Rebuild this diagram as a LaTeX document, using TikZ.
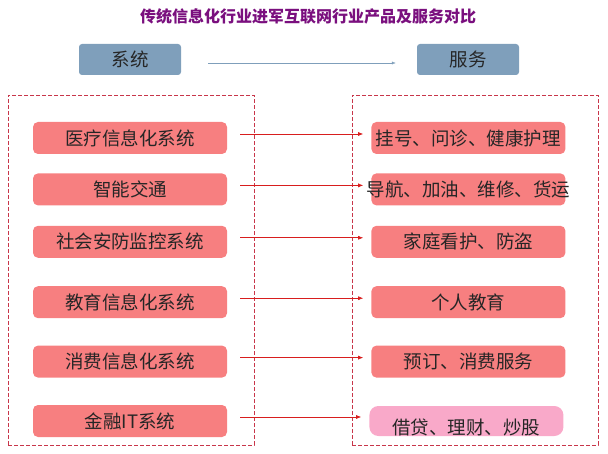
\documentclass[tikz,border=0pt]{standalone}
\usepackage{fontspec}
\setmainfont{Noto Sans CJK SC}
\usepackage{xcolor}
\definecolor{Salmon}{HTML}{F77F80}
\definecolor{Rose}{HTML}{F9A9C9}
\definecolor{Steel}{HTML}{7F9FBB}
\definecolor{Wine}{HTML}{C8364A}
\definecolor{Scarlet}{HTML}{D81E1E}
\definecolor{Violet}{HTML}{7A0F7E}
\usetikzlibrary{arrows.meta,positioning}

\begin{document}
\begin{tikzpicture}[x=1pt,y=-1pt,node distance=19pt and 144pt,every node/.style={font=\fontsize{18.5}{21}\selectfont,text=black!85,align=center}]
\useasboundingbox (0,0) rectangle (608,454);
\node[font=\fontsize{16}{18}\selectfont\bfseries,text=Violet] (title) at (308,16) {传统信息化行业进军互联网行业产品及服务对比};
\node[fill=Steel,rounded corners=3pt,minimum width=102pt,minimum height=31pt] (sys) at (130,59.5) {系统};
\node[fill=Steel,rounded corners=3pt,minimum width=102pt,minimum height=31pt] (srv) at (468,59.5) {服务};
\draw[-{Latex[length=4pt,width=3pt]},Steel,shorten <=27pt,shorten >=21pt] ([yshift=-3.5pt]sys.east)--([yshift=-3.5pt]srv.west);
\node[draw=Wine,dash pattern=on 4pt off 2pt,minimum width=246pt,minimum height=350pt] (lframe) at (131,270) {};
\node[draw=Wine,dash pattern=on 4pt off 2pt,minimum width=246pt,minimum height=350pt] (rframe) at (475,270) {};
\node[fill=Salmon,rounded corners=5pt,inner sep=0pt,minimum width=194pt,minimum height=32pt] (m1) at (130,138) {医疗信息化系统};
\node[fill=Salmon,rounded corners=5pt,inner sep=0pt,minimum width=194pt,minimum height=32pt,below=of m1] (m2) {智能交通};
\node[fill=Salmon,rounded corners=5pt,inner sep=0pt,minimum width=194pt,minimum height=32pt,below=20pt of m2] (m3) {社会安防监控系统};
\node[fill=Salmon,rounded corners=5pt,inner sep=0pt,minimum width=194pt,minimum height=32pt,below=28pt of m3] (m4) {教育信息化系统};
\node[fill=Salmon,rounded corners=5pt,inner sep=0pt,minimum width=194pt,minimum height=32pt,below=27pt of m4] (m5) {消费信息化系统};
\node[fill=Salmon,rounded corners=5pt,inner sep=0pt,minimum width=194pt,minimum height=32pt,below=27pt of m5] (m6) {金融IT系统};
\node[fill=Salmon,rounded corners=5pt,inner sep=0pt,minimum width=194pt,minimum height=32pt,right=of m1] (s1) {挂号、问诊、健康护理};
\node[fill=Salmon,rounded corners=5pt,inner sep=0pt,minimum width=194pt,minimum height=32pt,right=of m2] (s2) {\makebox[190pt]{导航、加油、维修、货运}};
\node[fill=Salmon,rounded corners=5pt,inner sep=0pt,minimum width=194pt,minimum height=32pt,right=of m3] (s3) {家庭看护、防盗};
\node[fill=Salmon,rounded corners=5pt,inner sep=0pt,minimum width=194pt,minimum height=32pt,right=of m4] (s4) {个人教育};
\node[fill=Salmon,rounded corners=5pt,inner sep=0pt,minimum width=194pt,minimum height=32pt,right=of m5] (s5) {预订、消费服务};
\node[fill=Rose,rounded corners=9pt,inner sep=0pt,text height=13pt,text depth=4pt,minimum width=194pt,minimum height=30pt,right=142pt of m6] (s6) {\raisebox{-9pt}{借贷、理财、炒股}};
\foreach \i in {1,...,6}
  \draw[-{Latex[length=5pt,width=4pt]},Scarlet,semithick,shorten <=13pt,shorten >=8pt] ([yshift=4pt]m\i.east)--([yshift=4pt]s\i.west);
\end{tikzpicture}
\end{document}
